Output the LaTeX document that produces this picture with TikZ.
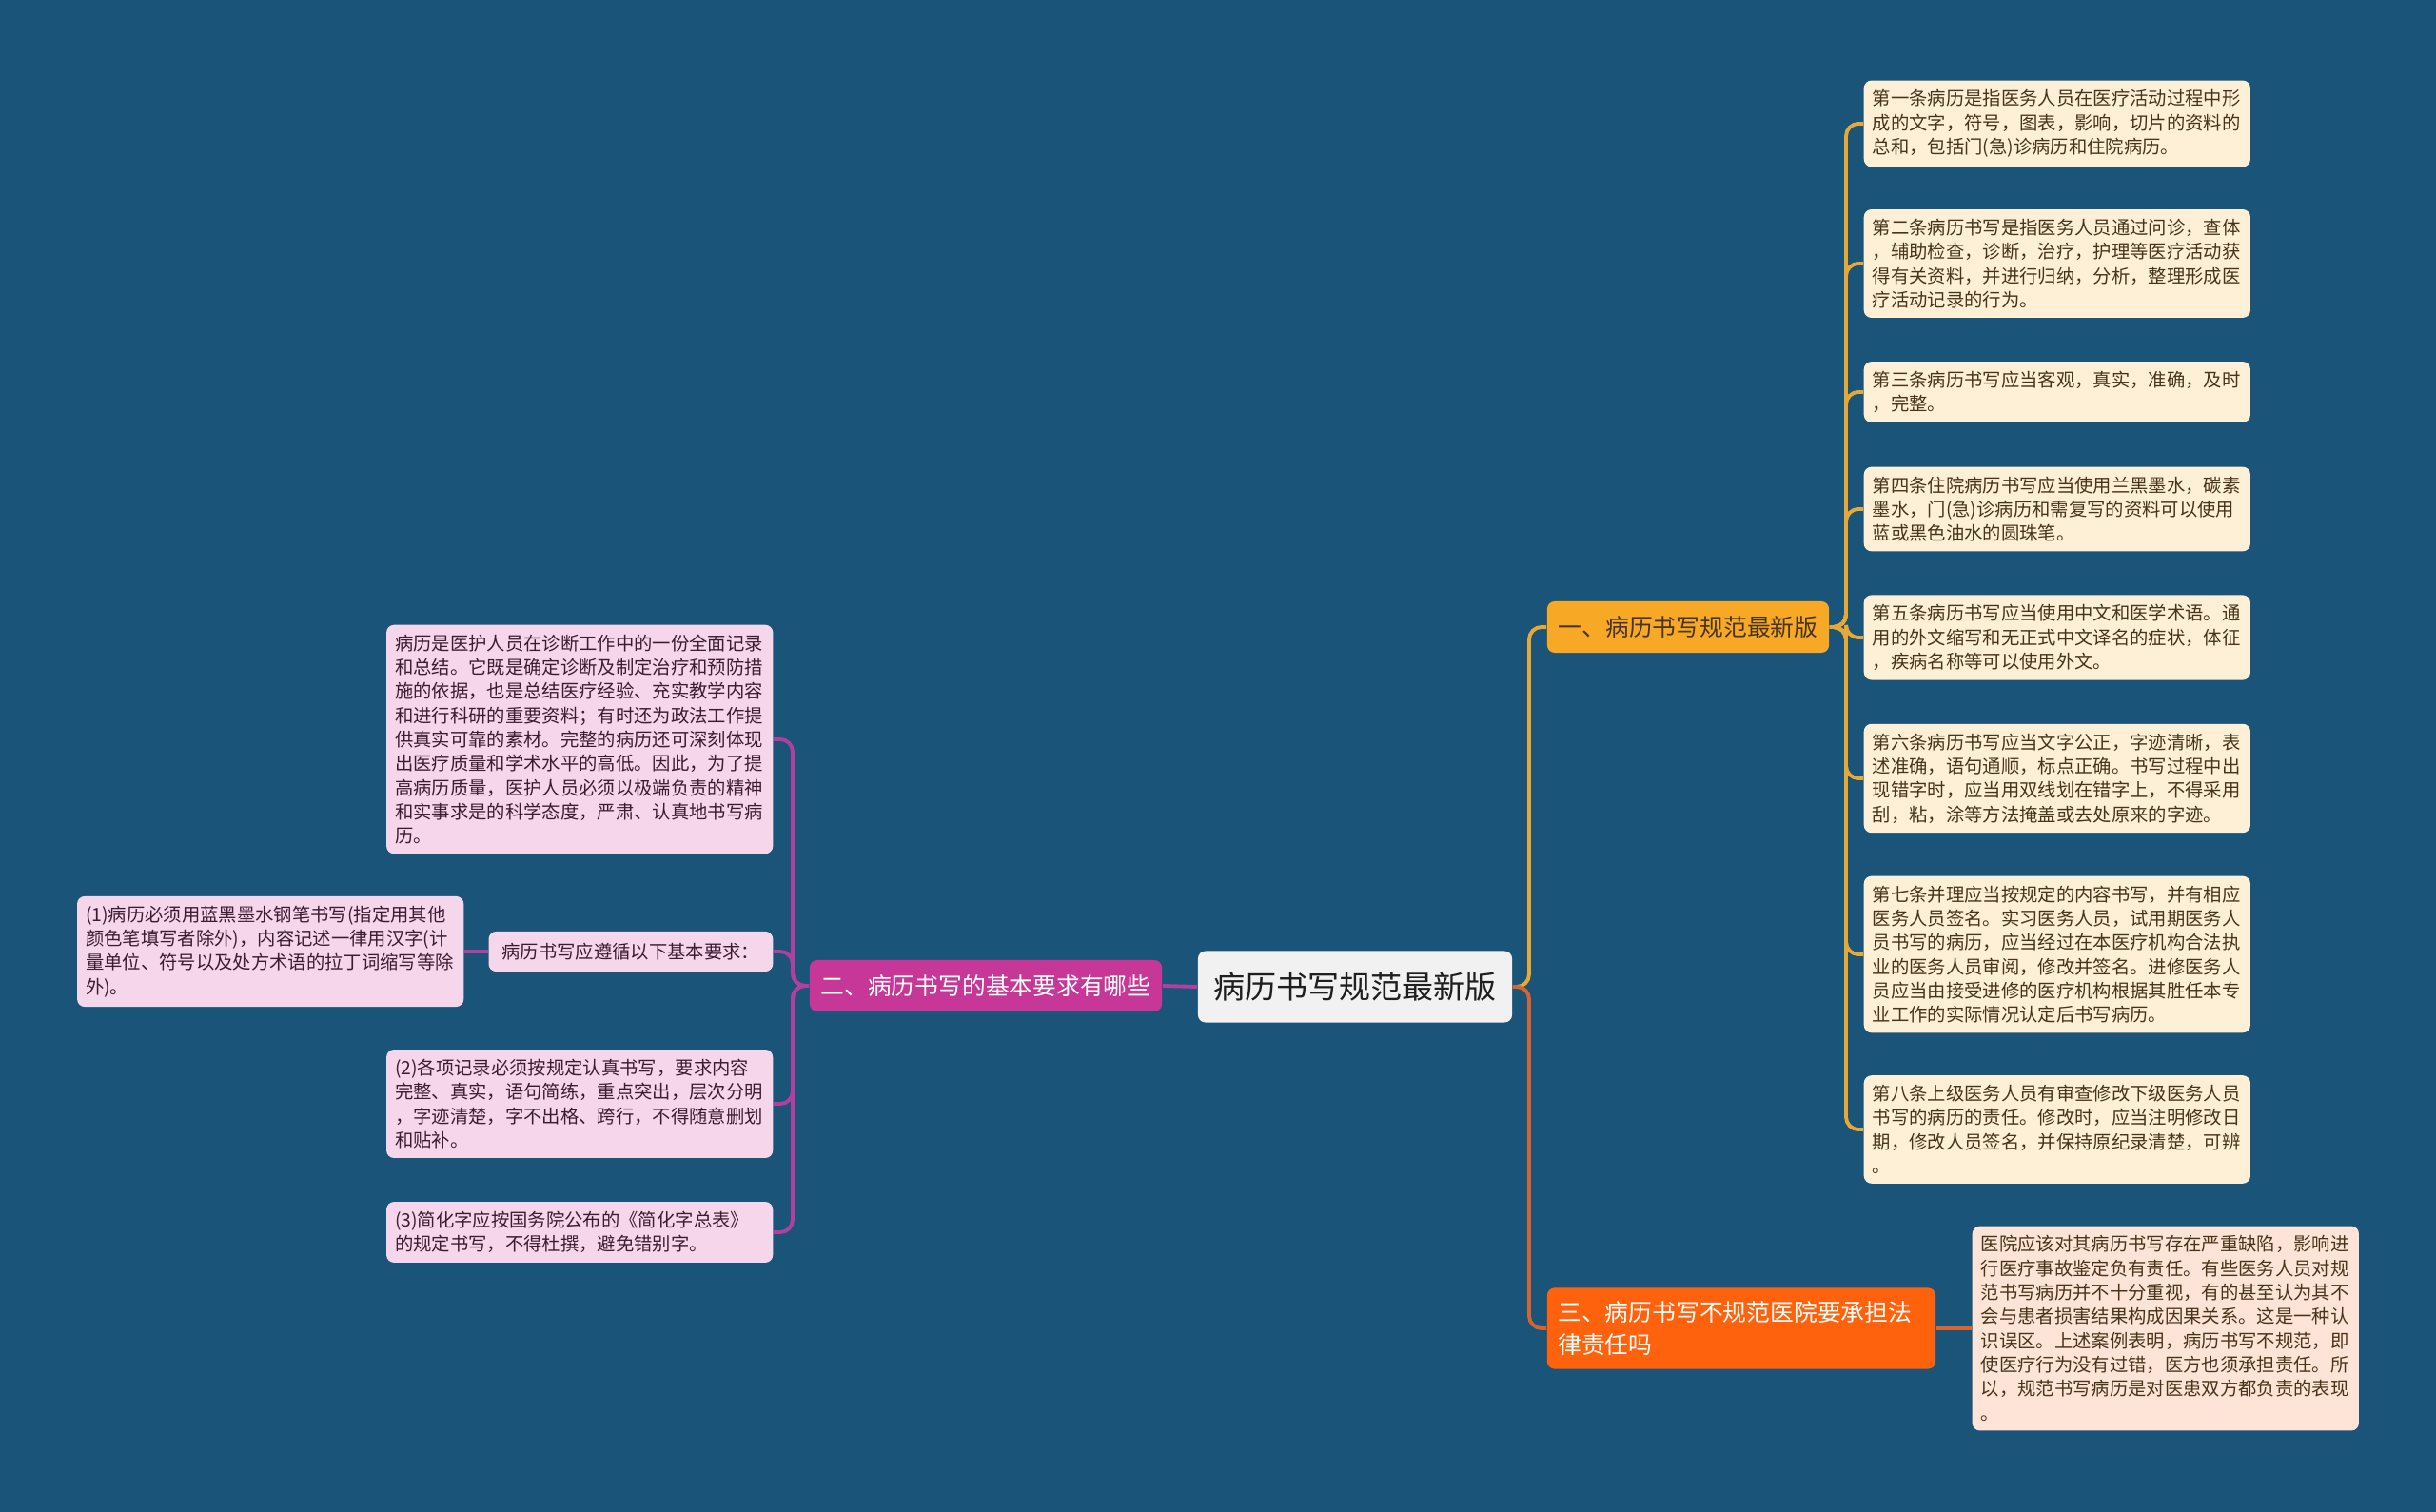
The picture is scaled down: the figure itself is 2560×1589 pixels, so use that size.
\documentclass[tikz,border=0pt]{standalone}
\usepackage{fontspec}
\setmainfont{Noto Sans CJK SC}
\usetikzlibrary{positioning}

\definecolor{bgblue}{RGB}{27,84,121}
\definecolor{rootfill}{RGB}{241,241,241}
\definecolor{onefill}{RGB}{247,169,37}
\definecolor{twofill}{RGB}{198,55,152}
\definecolor{threefill}{RGB}{255,98,12}
\definecolor{oneleaf}{RGB}{253,240,214}
\definecolor{twoleaf}{RGB}{246,214,234}
\definecolor{threeleaf}{RGB}{253,228,214}
\definecolor{oneline}{RGB}{232,168,56}
\definecolor{twoline}{RGB}{178,62,160}
\definecolor{threeline}{RGB}{214,100,48}
\definecolor{onetext}{RGB}{72,52,26}
\definecolor{twotext}{RGB}{60,28,50}

\newcommand{\leaffont}{\fontsize{5.5pt}{7.2pt}\selectfont}
\newcommand{\branchfont}{\fontsize{7.05pt}{9.7pt}\selectfont}
\newcommand{\rootfont}{\fontsize{9.4pt}{11pt}\selectfont}

\begin{document}
\begin{tikzpicture}[x=0.01cm, y=-0.01cm,
    box/.style={rounded corners=0.8mm, inner sep=0pt},
    leaf/.style={box, inner xsep=0.09cm, inner ysep=0.1cm, text width=3.88cm, align=left, font=\leaffont},
    branch/.style={box, minimum height=0.54cm, font=\branchfont},
    link/.style={line width=1.1pt, rounded corners=1.3mm},
    linkone/.style={link, oneline},
    linktwo/.style={link, twoline},
    linkthree/.style={link, threeline}]

    % Background and page size
    \fill[bgblue] (0,0) rectangle (2560,1589);

    % Central topic and the three branches
    \node[box, fill=rootfill, text=black!88, font=\rootfont, minimum width=3.3cm, minimum height=0.75cm] (root) at (1424,1037) {病历书写规范最新版};
    \node[branch, fill=onefill, text=onetext, minimum width=2.96cm] (b1) at (1774,659) {一、病历书写规范最新版};
    \node[branch, fill=twofill, text=white, minimum width=3.7cm] (b2) at (1036,1036) {二、病历书写的基本要求有哪些};
    \node[branch, fill=threefill, text=white, text width=3.85cm, inner xsep=0.115cm, inner ysep=0.14cm, align=left] (b3) at (1830,1396) {三、病历书写不规范医院要承担法\\律责任吗};

    % Leaves of branch one
    \node[leaf, fill=oneleaf, text=onetext, anchor=west] (r1) at (1958,130) {第一条病历是指医务人员在医疗活动过程中形\\成的文字，符号，图表，影响，切片的资料的\\总和，包括门(急)诊病历和住院病历。};
    \node[leaf, fill=oneleaf, text=onetext, anchor=west] (r2) at (1958,277) {第二条病历书写是指医务人员通过问诊，查体\\，辅助检查，诊断，治疗，护理等医疗活动获\\得有关资料，并进行归纳，分析，整理形成医\\疗活动记录的行为。};
    \node[leaf, fill=oneleaf, text=onetext, anchor=west] (r3) at (1958,412) {第三条病历书写应当客观，真实，准确，及时\\，完整。};
    \node[leaf, fill=oneleaf, text=onetext, anchor=west] (r4) at (1958,535) {第四条住院病历书写应当使用兰黑墨水，碳素\\墨水，门(急)诊病历和需复写的资料可以使用\\蓝或黑色油水的圆珠笔。};
    \node[leaf, fill=oneleaf, text=onetext, anchor=west] (r5) at (1958,670) {第五条病历书写应当使用中文和医学术语。通\\用的外文缩写和无正式中文译名的症状，体征\\，疾病名称等可以使用外文。};
    \node[leaf, fill=oneleaf, text=onetext, anchor=west] (r6) at (1958,818) {第六条病历书写应当文字公正，字迹清晰，表\\述准确，语句通顺，标点正确。书写过程中出\\现错字时，应当用双线划在错字上，不得采用\\刮，粘，涂等方法掩盖或去处原来的字迹。};
    \node[leaf, fill=oneleaf, text=onetext, anchor=west] (r7) at (1958,1003) {第七条并理应当按规定的内容书写，并有相应\\医务人员签名。实习医务人员，试用期医务人\\员书写的病历，应当经过在本医疗机构合法执\\业的医务人员审阅，修改并签名。进修医务人\\员应当由接受进修的医疗机构根据其胜任本专\\业工作的实际情况认定后书写病历。};
    \node[leaf, fill=oneleaf, text=onetext, anchor=west] (r8) at (1958,1187) {第八条上级医务人员有审查修改下级医务人员\\书写的病历的责任。修改时，应当注明修改日\\期，修改人员签名，并保持原纪录清楚，可辨\\。};

    % Leaf of branch three
    \node[leaf, fill=threeleaf, text=onetext, anchor=west] (s1) at (2072,1396) {医院应该对其病历书写存在严重缺陷，影响进\\行医疗事故鉴定负有责任。有些医务人员对规\\范书写病历并不十分重视，有的甚至认为其不\\会与患者损害结果构成因果关系。这是一种认\\识误区。上述案例表明，病历书写不规范，即\\使医疗行为没有过错，医方也须承担责任。所\\以，规范书写病历是对医患双方都负责的表现\\。};

    % Leaves of branch two
    \node[leaf, fill=twoleaf, text=twotext, anchor=east] (l1) at (813,777) {病历是医护人员在诊断工作中的一份全面记录\\和总结。它既是确定诊断及制定治疗和预防措\\施的依据，也是总结医疗经验、充实教学内容\\和进行科研的重要资料；有时还为政法工作提\\供真实可靠的素材。完整的病历还可深刻体现\\出医疗质量和学术水平的高低。因此，为了提\\高病历质量，医护人员必须以极端负责的精神\\和实事求是的科学态度，严肃、认真地书写病\\历。};
    \node[leaf, fill=twoleaf, text=twotext, anchor=east, text width=, inner xsep=0.14cm, inner ysep=0.12cm] (l2) at (813,1000) {病历书写应遵循以下基本要求：};
    \node[leaf, fill=twoleaf, text=twotext, anchor=east] (l3) at (488,1000) {(1)病历必须用蓝黑墨水钢笔书写(指定用其他\\颜色笔填写者除外)，内容记述一律用汉字(计\\量单位、符号以及处方术语的拉丁词缩写等除\\外)。};
    \node[leaf, fill=twoleaf, text=twotext, anchor=east] (l4) at (813,1160) {(2)各项记录必须按规定认真书写，要求内容\\完整、真实，语句简练，重点突出，层次分明\\，字迹清楚，字不出格、跨行，不得随意删划\\和贴补。};
    \node[leaf, fill=twoleaf, text=twotext, anchor=east] (l5) at (813,1295) {(3)简化字应按国务院公布的《简化字总表》\\的规定书写，不得杜撰，避免错别字。};

    % Split points of the connectors
    \coordinate (t0) at (1607,1037);
    \coordinate (t1) at (1940,659);
    \coordinate (t2) at (833,1036);

    % Connectors from the central topic
    \draw[linkone] (root.east) -- (t0) |- (b1.west);
    \draw[linkthree] (root.east) -- (t0) |- (b3.west);
    \draw[linktwo] (root.west) -- (b2.east);

    % Connectors to the leaves
    \foreach \n in {1,...,8}
        \draw[linkone] (b1.east) -- (t1) |- (r\n.west);
    \draw[linkthree] (b3.east) -- (s1.west);
    \foreach \n in {1,2,4,5}
        \draw[linktwo] (b2.west) -- (t2) |- (l\n.east);
    \draw[linktwo] (l2.west) -- (l3.east);
\end{tikzpicture}
\end{document}
